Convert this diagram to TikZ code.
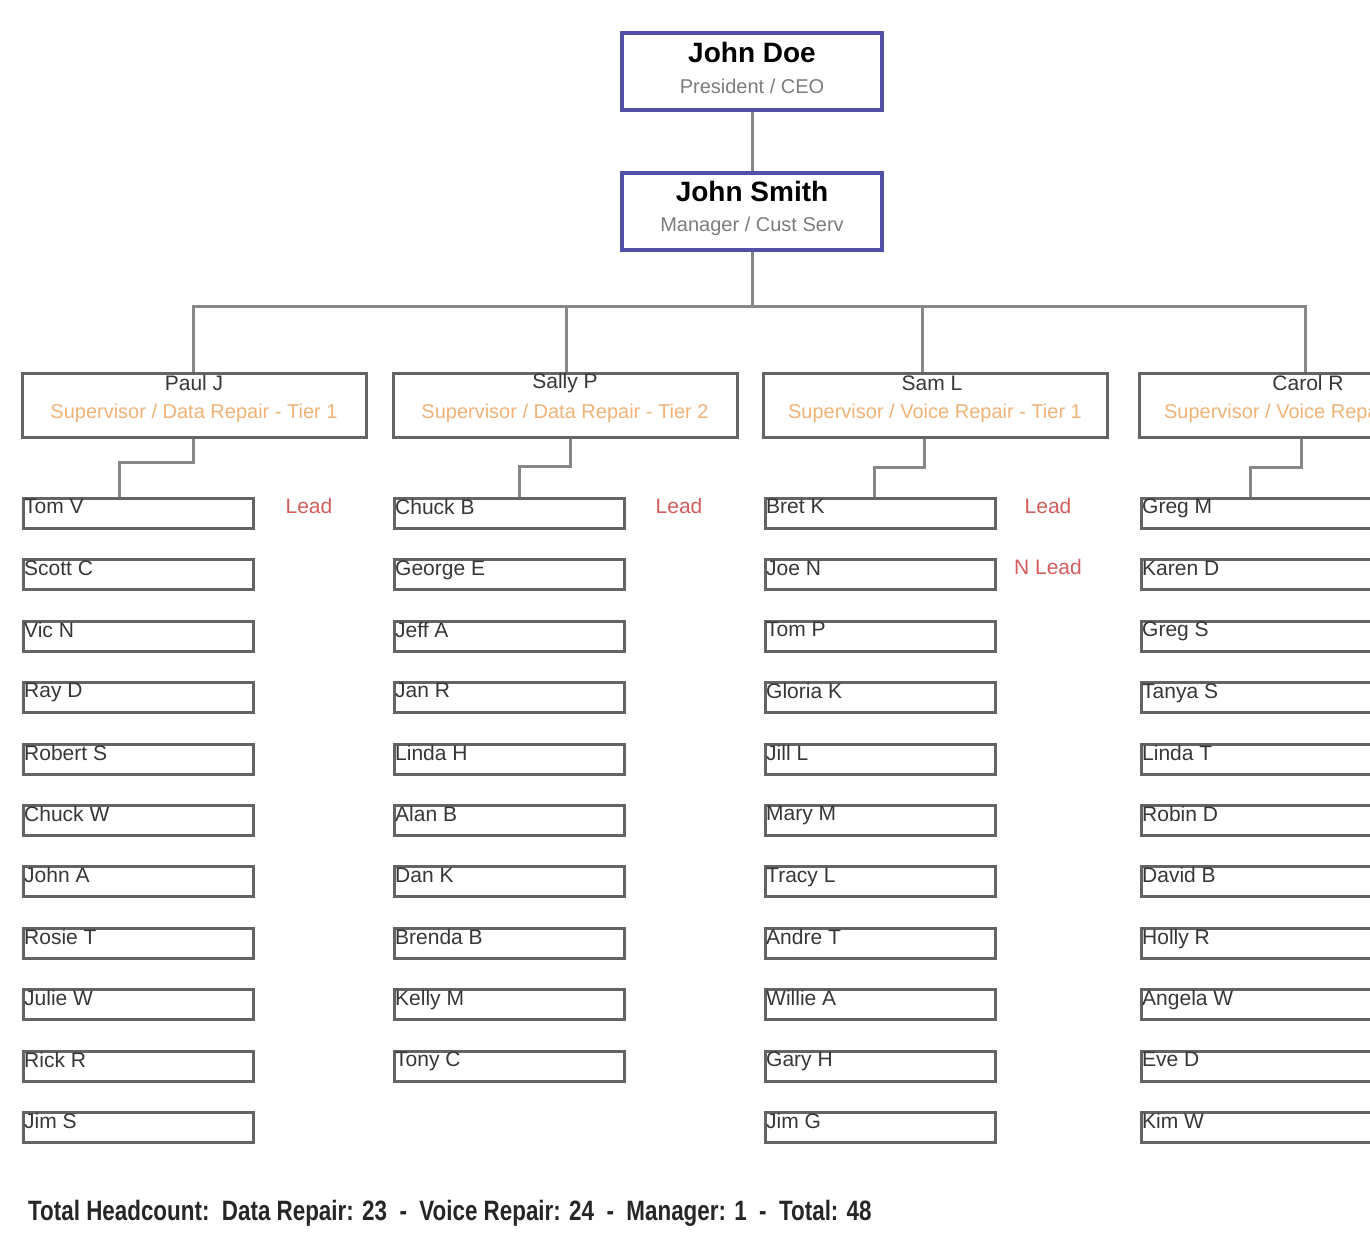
\documentclass[tikz,border=0pt]{standalone}
\usepackage{fontspec}
\setmainfont{Liberation Sans}
\newfontfamily\footfont{Liberation Sans}[FakeStretch=0.8]
\usepackage{xcolor}

\definecolor{ceoblue}{RGB}{80,80,168}
\definecolor{boxgray}{RGB}{100,100,100}
\definecolor{linegray}{RGB}{135,135,135}
\definecolor{titlegray}{RGB}{125,125,125}
\definecolor{suporange}{RGB}{240,178,118}
\definecolor{leadred}{RGB}{212,92,92}
\definecolor{namegray}{RGB}{55,55,55}

\begin{document}
\begin{tikzpicture}[x=1pt,y=-1pt,
  topbox/.style={draw=ceoblue,line width=4pt,fill=white,minimum width=260pt,minimum height=77pt},
  topname/.style={font=\bfseries\fontsize{28}{30}\selectfont,inner sep=0pt},
  toptitle/.style={font=\fontsize{20}{22}\selectfont,text=titlegray,inner sep=0pt},
  supbox/.style={draw=boxgray,line width=3pt,minimum width=344pt,minimum height=64pt},
  supname/.style={font=\fontsize{21}{23}\selectfont,text=namegray,inner sep=0pt},
  suptitle/.style={font=\fontsize{20}{22}\selectfont,text=suporange,inner sep=0pt},
  staff/.style={draw=boxgray,line width=3pt,minimum width=230pt,minimum height=30pt,
    anchor=north west,inner sep=0pt},
  stafftext/.style={font=\fontsize{21}{23}\selectfont,text=namegray,inner sep=0pt,
    anchor=north west,xshift=2pt,yshift=-2pt},
  lead/.style={font=\fontsize{21}{23}\selectfont,text=leadred,inner sep=0pt},
  link/.style={draw=linegray,line width=3pt}]
  \useasboundingbox (0,0) rectangle (1370,1235);
  \clip (0,0) rectangle (1370,1235);

  % top of the chart
  \node[topbox] (ceo) at (752,71.5) {};
  \node[topname] (ceoname) at ([yshift=19.5pt]ceo.center) {John Doe};
  \node[toptitle] (ceotitle) at ([yshift=-14.5pt]ceo.center) {President / CEO};
  \node[topbox] (mgr) at (752,211.5) {};
  \node[topname] (mgrname) at ([yshift=20.5pt]mgr.center) {John Smith};
  \node[toptitle] (mgrtitle) at ([yshift=-14.5pt]mgr.center) {Manager / Cust Serv};
  \draw[link] (ceo.south) -- (mgr.north);

  % supervisors
  \node[supbox] (paul) at (194,405) {};
  \node[supbox] (sally) at (565,405) {};
  \node[supbox] (sam) at (935,405) {};
  \node[supbox] (carol) at (1311,405) {};
  \draw[link] (mgr.south) -- ++(0,54) -| ([xshift=-1pt]paul.north);
  \draw[link] (mgr.south) -- ++(0,54) -| ([xshift=1pt]sally.north);
  \draw[link] (mgr.south) -- ++(0,54) -| ([xshift=-13pt]sam.north);
  \draw[link] (mgr.south) -- ++(0,54) -| ([xshift=-6pt]carol.north);
  \node[supname] (paulname) at ([yshift=22pt]paul.center) {Paul J};
  \node[suptitle] (paultitle) at ([yshift=-8pt]paul.center) {Supervisor / Data Repair - Tier 1};
  \node[supname] (sallyname) at ([yshift=22pt]sally.center) {Sally P};
  \node[suptitle] (sallytitle) at ([yshift=-8pt]sally.center) {Supervisor / Data Repair - Tier 2};
  \node[supname] (samname) at ([yshift=22pt,xshift=-3pt]sam.center) {Sam L};
  \node[suptitle] (samtitle) at ([yshift=-8pt]sam.center) {Supervisor / Voice Repair - Tier 1};
  \node[supname] (carolname) at ([yshift=22pt,xshift=-3pt]carol.center) {Carol R};
  \node[suptitle] (caroltitle) at ([yshift=-8pt]carol.center) {Supervisor / Voice Repair - Tier 2};

  % staff columns
  \foreach \who [count=\i] in {Tom V,Scott C,Vic N,Ray D,Robert S,Chuck W,John A,Rosie T,Julie W,Rick R,Jim S}
    \node[staff,label={[stafftext]north west:\who}] (pa\i) at (22,{497+(\i-1)*61.4}) {};
  \foreach \who [count=\i] in {Chuck B,George E,Jeff A,Jan R,Linda H,Alan B,Dan K,Brenda B,Kelly M,Tony C}
    \node[staff,label={[stafftext]north west:\who}] (sa\i) at (393,{497+(\i-1)*61.4}) {};
  \foreach \who [count=\i] in {Bret K,Joe N,Tom P,Gloria K,Jill L,Mary M,Tracy L,Andre T,Willie A,Gary H,Jim G}
    \node[staff,label={[stafftext]north west:\who}] (sm\i) at (764,{497+(\i-1)*61.4}) {};
  \foreach \who [count=\i] in {Greg M,Karen D,Greg S,Tanya S,Linda T,Robin D,David B,Holly R,Angela W,Eve D,Kim W}
    \node[staff,label={[stafftext]north west:\who}] (ca\i) at (1140,{497+(\i-1)*61.4}) {};

  \draw[link] ([xshift=-1pt]paul.south) -- ++(0,24) -| ([xshift=-19pt]pa1.north);
  \draw[link] ([xshift=5pt]sally.south) -- ++(0,28) -| ([xshift=10pt]sa1.north);
  \draw[link] ([xshift=-11pt]sam.south) -- ++(0,29) -| ([xshift=-6pt]sm1.north);
  \draw[link] ([xshift=-10pt]carol.south) -- ++(0,29) -| ([xshift=-6pt]ca1.north);

  \node[lead] (palead) at (309,506) {Lead};
  \node[lead] (salead) at (679,506) {Lead};
  \node[lead] (smlead) at (1048,506) {Lead};
  \node[lead] (smnlead) at (1048,567) {N Lead};

  \node[anchor=west,inner sep=0pt,font=\footfont\bfseries\fontsize{28}{30}\selectfont,text=black!85]
    (headcount) at (28,1213) {Total Headcount:\ \ Data Repair: 23\ \ -\ \ Voice Repair: 24\ \ -\ \ Manager: 1\ \ -\ \ Total: 48};
\end{tikzpicture}
\end{document}
